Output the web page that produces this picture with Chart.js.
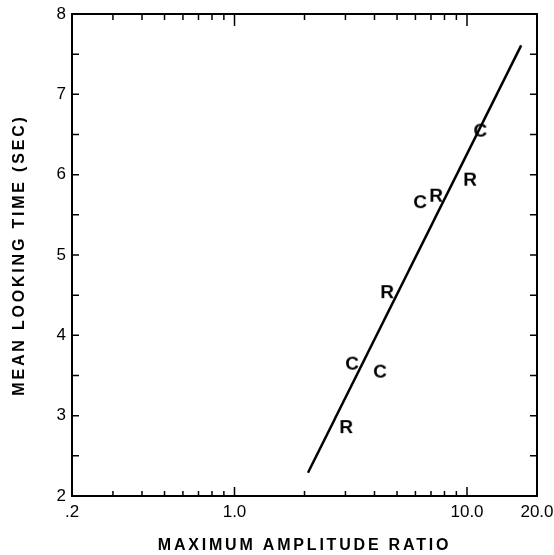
<!DOCTYPE html>
<html>
<head>
<meta charset="utf-8">
<script src="https://cdn.jsdelivr.net/npm/chart.js@4.4.1/dist/chart.umd.min.js"></script>
<style>
  body { margin: 0; background: #fff; }
  canvas { display: block; }
</style>
</head>
<body>
<canvas id="mycanvas" width="554" height="555"></canvas>
<script>
// values (x = max amplitude ratio, y = mean looking time)
var cX = [11.4, 6.28, 3.20, 4.22];
var cY = [6.56, 5.67, 3.66, 3.56];
var rX = [10.3, 7.36, 4.53, 3.02];
var rY = [5.95, 5.75, 4.55, 2.87];
var fitX = [2.07, 17.1];
var fitY = [2.29, 7.61];

var xTickVals = [0.2, 1, 10, 20];
var xTickText = ['.2', '1.0', '10.0', '20.0'];
var xMajor = [1, 10];
var xMinor = [0.3, 0.4, 0.5, 0.6, 0.7, 0.8, 0.9, 2, 3, 4, 5, 6, 7, 8, 9];
var yMinor = [2.5, 3, 3.5, 4, 4.5, 5, 5.5, 6, 6.5, 7, 7.5];

var FONT = '"Liberation Sans", Arial, Helvetica, sans-serif';

function pts(xs, ys){
	var out = [];
	for (var i in xs) { out.push({x: xs[i], y: ys[i]}); }
	return out;
}

// letter used as the point marker
function letterMark(ch){
	var c = document.createElement('canvas');
	c.width = 24; c.height = 24;
	var g = c.getContext('2d');
	g.font = 'bold 19px ' + FONT;
	g.fillStyle = '#000';
	g.textAlign = 'center';
	g.textBaseline = 'alphabetic';
	g.fillText(ch, 12, 12 + 6.8);
	return c;
}

// box, inner tick marks and axis titles
var framePlugin = {
	id: 'frame',
	afterDraw: function(chart){
		var ctx = chart.ctx, a = chart.chartArea;
		var xs = chart.scales.x, ys = chart.scales.y;
		ctx.save();
		ctx.strokeStyle = '#000';
		ctx.lineWidth = 2;
		ctx.strokeRect(a.left, a.top, a.right - a.left, a.bottom - a.top);
		ctx.lineWidth = 1.5;
		ctx.beginPath();
		yMinor.forEach(function(v){
			var p = ys.getPixelForValue(v);
			ctx.moveTo(a.left, p); ctx.lineTo(a.left + 7, p);
			ctx.moveTo(a.right, p); ctx.lineTo(a.right - 7, p);
		});
		xMinor.forEach(function(v){
			var p = xs.getPixelForValue(v);
			ctx.moveTo(p, a.bottom); ctx.lineTo(p, a.bottom - 5);
			ctx.moveTo(p, a.top); ctx.lineTo(p, a.top + 6);
		});
		xMajor.forEach(function(v){
			var p = xs.getPixelForValue(v);
			ctx.moveTo(p, a.bottom); ctx.lineTo(p, a.bottom - 9);
			ctx.moveTo(p, a.top); ctx.lineTo(p, a.top + 12);
		});
		ctx.stroke();

		ctx.fillStyle = '#000';
		ctx.font = 'bold 16px ' + FONT;
		ctx.letterSpacing = '2.8px';
		ctx.textAlign = 'center';
		ctx.textBaseline = 'alphabetic';
		ctx.fillText('MAXIMUM AMPLITUDE RATIO', (a.left + a.right) / 2, 549.5);
		ctx.translate(24, (a.top + a.bottom) / 2);
		ctx.rotate(-Math.PI / 2);
		ctx.fillText('MEAN LOOKING TIME (SEC)', 0, 0);
		ctx.restore();
	}
};

var ctx = document.getElementById('mycanvas');
var chart = new Chart(ctx, {
	type: 'scatter',
	data: {
		datasets: [{
			label: 'fit',
			data: pts(fitX, fitY),
			showLine: true,
			borderColor: '#000',
			borderWidth: 2.5,
			pointRadius: 0
		}, {
			label: 'C',
			data: pts(cX, cY),
			pointStyle: letterMark('C'),
			pointRadius: 10
		}, {
			label: 'R',
			data: pts(rX, rY),
			pointStyle: letterMark('R'),
			pointRadius: 10
		}]
	},
	options: {
		responsive: false,
		animation: false,
		devicePixelRatio: 1,
		layout: { padding: { left: 42, right: 17, top: 14, bottom: 35 } },
		plugins: {
			legend: { display: false },
			tooltip: { enabled: false }
		},
		scales: {
			x: {
				type: 'logarithmic',
				min: 0.2,
				max: 20,
				afterBuildTicks: function(scale){
					scale.ticks = xTickVals.map(function(v){ return {value: v}; });
				},
				afterFit: function(scale){
					scale.height = 24;
					scale.paddingLeft = 0;
					scale.paddingRight = 0;
				},
				grid: { display: false, drawTicks: false },
				border: { display: false },
				ticks: {
					autoSkip: false,
					maxRotation: 0,
					padding: 6,
					color: '#000',
					font: { family: FONT, size: 17 },
					callback: function(v, i){ return xTickText[i]; }
				}
			},
			y: {
				min: 2,
				max: 8,
				afterFit: function(scale){
					scale.width = 30;
					scale.paddingTop = 0;
					scale.paddingBottom = 0;
				},
				grid: { display: false, drawTicks: false },
				border: { display: false },
				ticks: {
					stepSize: 1,
					padding: 6,
					color: '#000',
					font: { family: FONT, size: 17 }
				}
			}
		}
	},
	plugins: [framePlugin]
});
</script>
</body>
</html>
